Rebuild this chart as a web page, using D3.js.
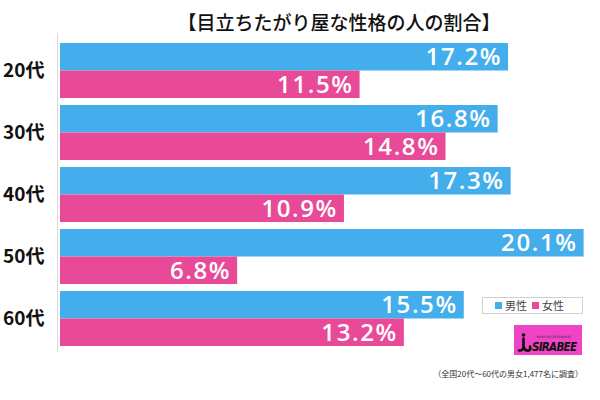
<!DOCTYPE html>
<html><head><meta charset="utf-8">
<script src="https://cdn.jsdelivr.net/npm/d3@7"></script>
<style>body{margin:0;background:#fff}svg{display:block}</style>
</head><body>
<script>
const categories = ["20代","30代","40代","50代","60代"];
const seriesNames = ["男性","女性"];
const maleValues = [17.2,16.8,17.3,20.1,15.5];
const femaleValues = [11.5,14.8,10.9,6.8,13.2];
const title = "【目立ちたがり屋な性格の人の割合】";
const note = "（全国20代～60代の男女1,477名に調査）";
const colors = ["#43aeeb","#e84a98"];

const W=600,H=400;
const svg=d3.select("body").append("svg").attr("width",W).attr("height",H);
const x=d3.scaleLinear().domain([0,20.1]).range([60,583.6]);
const y=d3.scaleBand().domain(categories).range([39.5,349.5]).paddingInner(0.113).paddingOuter(0.0565);
const sub=d3.scaleBand().domain(seriesNames).range([0,y.bandwidth()]);

const data=categories.map((c,i)=>({c,vals:[maleValues[i],femaleValues[i]]}));

svg.append("text").attr("x",339).attr("y",30).attr("text-anchor","middle")
  .attr("font-family","'Noto Sans CJK JP'").attr("font-weight",500).attr("font-size",19).attr("fill","#111").text(title);

svg.append("line").attr("x1",57.5).attr("x2",57.5).attr("y1",33).attr("y2",352).attr("stroke","#d9d9d9");

const g=svg.selectAll("g.cat").data(data).enter().append("g").attr("transform",d=>`translate(0,${y(d.c)})`);
g.append("text").attr("x",3).attr("y",y.bandwidth()/2).attr("dy","0.35em")
  .attr("font-family","'Noto Sans CJK JP'").attr("font-weight",700).attr("font-size",19).attr("fill","#111").text(d=>d.c);
seriesNames.forEach((s,k)=>{
  g.append("rect").attr("x",x(0)).attr("y",sub(s)).attr("width",d=>x(d.vals[k])-x(0)).attr("height",sub.bandwidth()).attr("fill",colors[k]);
  g.append("text").attr("x",d=>x(d.vals[k])-6).attr("y",sub(s)+sub.bandwidth()/2).attr("dy","0.36em")
   .attr("text-anchor","end").attr("font-family","'Open Sans'").attr("font-weight",600).attr("font-size",24)
   .attr("letter-spacing",1.6).attr("fill","#fff").text(d=>d.vals[k].toFixed(1)+"%");
});

// legend
const lg=svg.append("g");
lg.append("rect").attr("x",482.5).attr("y",297.5).attr("width",100).attr("height",16).attr("fill","#fff").attr("stroke","#cfcfcf");
const lx=[495,532];
seriesNames.forEach((s,k)=>{
  lg.append("rect").attr("x",lx[k]).attr("y",302).attr("width",7).attr("height",7).attr("fill",colors[k]);
  lg.append("text").attr("x",lx[k]+10).attr("y",306).attr("dy","0.36em").attr("font-family","'Noto Sans CJK JP'")
    .attr("font-size",11).attr("fill","#444").text(s);
});

// logo
const lo=svg.append("g");
lo.append("rect").attr("x",514).attr("y",325).attr("width",68).attr("height",30).attr("fill","#f044c6");
lo.append("circle").attr("cx",523.5).attr("cy",335).attr("r",1.8).attr("fill","#111");
lo.append("path").attr("d","M523.5,338.5 L523.5,346 Q523.5,351 519,350.5 M523.5,346 Q524.5,351.5 529,350.5 Q531,349 530,346.5")
  .attr("stroke","#111").attr("stroke-width",2.6).attr("fill","none").attr("stroke-linecap","round");
lo.append("text").attr("x",532).attr("y",351).attr("font-family","'Liberation Sans Narrow','DejaVu Sans Condensed',sans-serif")
  .attr("font-weight",700).attr("font-style","italic").attr("font-size",11.5).attr("fill","#111").attr("textLength",45).text("SIRABEE");
lo.append("text").attr("x",554).attr("y",338).attr("text-anchor","middle").attr("font-family","'DejaVu Sans'")
  .attr("font-size",3).attr("fill","#333").text("NEWS ENTERTAINMENT");

svg.append("text").attr("x",583).attr("y",377).attr("text-anchor","end").attr("font-family","'Noto Sans CJK JP'")
  .attr("font-size",8).attr("fill","#333").text(note);
</script>
</body></html>
